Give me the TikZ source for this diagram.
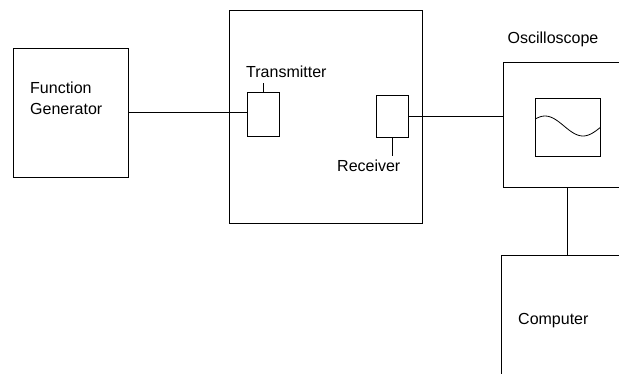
\documentclass[tikz,border=0pt]{standalone}
\usepackage{fontspec}
\setmainfont{Liberation Sans}
\usepackage{tikz}
\usetikzlibrary{positioning}

\begin{document}
\begin{tikzpicture}[x=1pt,y=1pt,yscale=-1,xscale=1,
  box/.style={draw, line width=0.9pt, rectangle, inner sep=0pt},
  wire/.style={draw, line width=0.9pt},
  lbl/.style={inner sep=0pt, font=\fontsize{16}{21}\selectfont}]
\clip (0,0) rectangle (619,373);

%Shape: Rectangle
\node [box, minimum width=115, minimum height=129] (fgen) at (70.5,112.5) {};
%Shape: Rectangle
\node [box, minimum width=193, minimum height=213] (tank) at (325.5,116.5) {};
%Shape: Rectangle
\node [box, minimum width=32, minimum height=44] (tx) at (263,114) {};
%Shape: Rectangle
\node [box, minimum width=32, minimum height=42] (rx) at (392,116) {};
%Shape: Rectangle
\node [box, minimum width=128, minimum height=125] (scope) at (567,124.5) {};
%Shape: Rectangle
\node [box, minimum width=65, minimum height=58] (screen) at (567.5,127) {};
%Shape: Rectangle
\node [box, minimum width=132, minimum height=140] (pc) at (567,325) {};

% Text Node
\node [lbl, anchor=west, align=left] (fgenlbl) at (30,98) {Function\\Generator};
% Text Node
\node [lbl, anchor=base west] (txlbl) at (246,77) {Transmitter};
% Text Node
\node [lbl, anchor=base west] (rxlbl) at (337,171) {Receiver};
% Text Node
\node [lbl, anchor=base] (scopelbl) at (553,43) {Oscilloscope};
% Text Node
\node [lbl, anchor=base west] (pclbl) at (518,324) {Computer};

%Straight Lines
\draw [wire] (fgen.east) -- (fgen.east -| tx.west) ;
%Straight Lines
\draw [wire] (tx.north) -- ++(0,-9) ;
%Straight Lines
\draw [wire] (rx.south) -- ++(0,19) ;
%Straight Lines
\draw [wire] (rx.east) -- (rx.east -| scope.west) ;
%Straight Lines
\draw [wire] (scope.south) -- (scope.south |- pc.north) ;
%Curve Lines
\draw [line width=0.8pt] plot [domain=536:600, samples=40, smooth] (\x, {126-10*cos((\x-545)*180/38)}) ;

\end{tikzpicture}
\end{document}
